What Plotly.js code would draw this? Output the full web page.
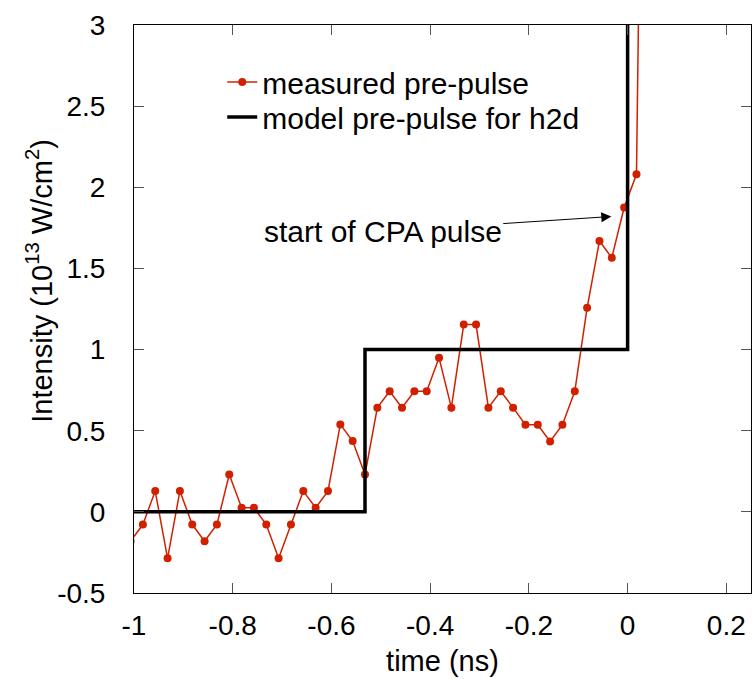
<!DOCTYPE html>
<html>
<head>
<meta charset="utf-8">
<script src="https://cdn.plot.ly/plotly-3.0.1.min.js"></script>
<style>html,body{margin:0;padding:0;background:#fff;}#chart{width:752px;height:679px;}</style>
</head>
<body>
<div id="chart"></div>
<script>
// measured pre-pulse (time in ns, intensity in 1e13 W/cm^2)
const measuredTime = [-1.007, -0.982, -0.957, -0.932, -0.907, -0.882, -0.857, -0.832, -0.807, -0.782,
  -0.757, -0.732, -0.707, -0.682, -0.657, -0.632, -0.607, -0.582, -0.557, -0.532,
  -0.507, -0.482, -0.457, -0.432, -0.407, -0.382, -0.357, -0.332, -0.307, -0.282,
  -0.257, -0.232, -0.207, -0.182, -0.157, -0.132, -0.107, -0.082, -0.057, -0.032,
  -0.007, 0.018, 0.043];
const measuredIntensity = [-0.181, -0.078, 0.128, -0.286, 0.128, -0.078, -0.181, -0.078, 0.230, 0.025,
  0.025, -0.078, -0.286, -0.078, 0.128, 0.025, 0.128, 0.539, 0.436, 0.230,
  0.642, 0.743, 0.642, 0.743, 0.743, 0.949, 0.642, 1.154, 1.154, 0.642,
  0.743, 0.642, 0.537, 0.537, 0.434, 0.537, 0.743, 1.257, 1.669, 1.566,
  1.875, 2.080, 8.0];

// model pre-pulse for h2d
const modelTime = [-1.0, -0.532, -0.532, 0.0, 0.0];
const modelIntensity = [0, 0, 1, 1, 3];

// tick labels
const xTickVals = [-1, -0.8, -0.6, -0.4, -0.2, 0, 0.2];
const xTickText = ['-1', '-0.8', '-0.6', '-0.4', '-0.2', '0', '0.2'];
const yTickVals = [-0.5, 0, 0.5, 1, 1.5, 2, 2.5, 3];
const yTickText = ['-0.5', '0', '0.5', '1', '1.5', '2', '2.5', '3'];

const FONT = 'Liberation Sans, Arial, sans-serif';
const RED = 'rgb(208,32,0)';

const traces = [
  {
    x: measuredTime, y: measuredIntensity,
    type: 'scatter', mode: 'lines+markers',
    name: 'measured pre-pulse',
    line: {color: RED, width: 1.5},
    marker: {color: RED, size: 8},
    legend: 'legend'
  },
  {
    x: modelTime, y: modelIntensity,
    type: 'scatter', mode: 'lines',
    name: 'model pre-pulse for h2d',
    line: {color: 'black', width: 3.5},
    legend: 'legend2'
  }
];

const axisCommon = {
  showgrid: false, zeroline: false,
  showline: true, linecolor: 'black', linewidth: 1,
  mirror: 'ticks', ticks: 'inside', ticklen: 10, tickwidth: 1, tickcolor: '#555',
  tickfont: {family: FONT, size: 28, color: 'black'},
  tickmode: 'array'
};

const legendCommon = {
  xanchor: 'left', yanchor: 'middle',
  bgcolor: 'rgba(0,0,0,0)', borderwidth: 0,
  font: {family: FONT, size: 30, color: 'black'}
};

const layout = {
  width: 752, height: 679,
  margin: {l: 134, r: 1, t: 25, b: 86},
  paper_bgcolor: 'white', plot_bgcolor: 'white',
  font: {family: FONT, color: 'black'},
  showlegend: true,
  legend: Object.assign({}, legendCommon, {x: 0.143, y: 0.8996}),
  legend2: Object.assign({}, legendCommon, {x: 0.143, y: 0.838}),
  xaxis: Object.assign({}, axisCommon, {
    range: [-1, 0.25],
    tickvals: xTickVals, ticktext: xTickText,
    ticklabelstandoff: 7,
    title: {text: 'time (ns)', font: {family: FONT, size: 29, color: 'black'}, standoff: 11}
  }),
  yaxis: Object.assign({}, axisCommon, {
    range: [-0.5, 3],
    tickvals: yTickVals, ticktext: yTickText,
    ticklabelstandoff: 22
  }),
  annotations: [
    {
      xref: 'paper', yref: 'paper', x: -0.153, y: 0.549,
      text: 'Intensity (10<sup>13</sup> W/cm<sup>2</sup>)',
      textangle: -90, showarrow: false,
      font: {family: FONT, size: 29, color: 'black'},
      xanchor: 'center', yanchor: 'middle'
    },
    {
      xref: 'x', yref: 'y', x: -0.033, y: 1.82,
      axref: 'x', ayref: 'y', ax: -0.496, ay: 1.728,
      text: 'start of CPA pulse',
      showarrow: true, arrowhead: 2, arrowsize: 2, arrowwidth: 1, arrowcolor: 'black',
      font: {family: FONT, size: 30, color: 'black'}
    }
  ]
};

Plotly.newPlot('chart', traces, layout, {displayModeBar: false, staticPlot: true});
</script>
</body>
</html>
